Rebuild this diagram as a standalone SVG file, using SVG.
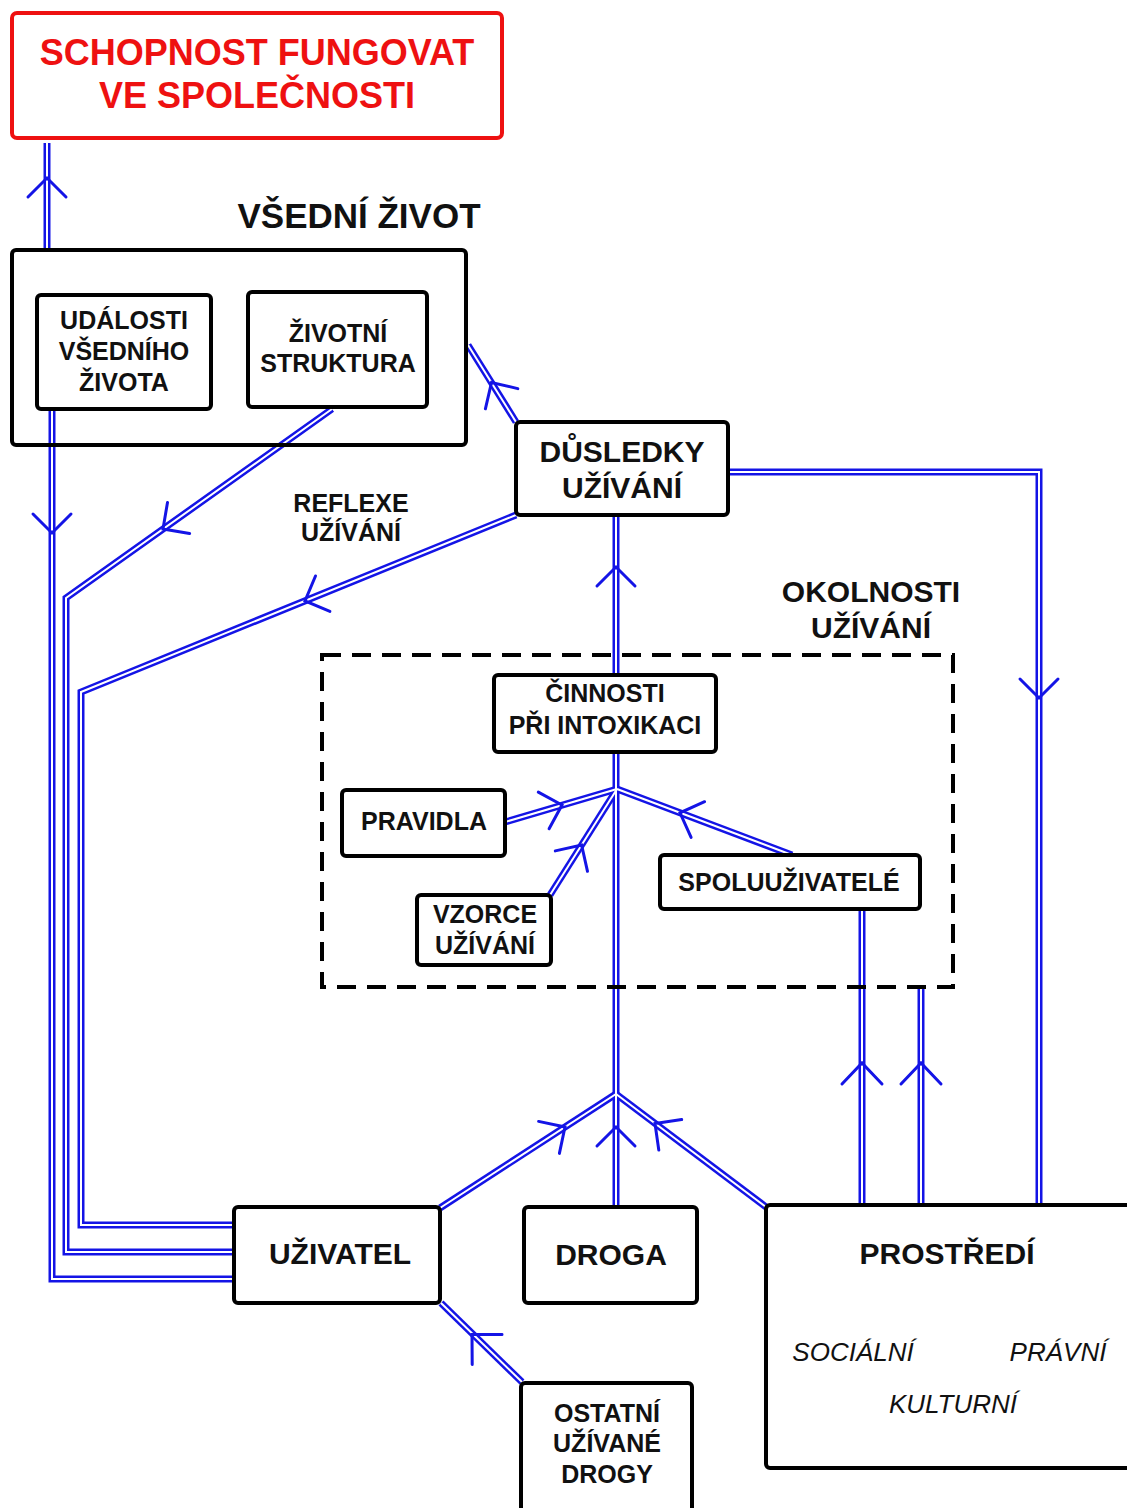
<svg xmlns="http://www.w3.org/2000/svg" xmlns:xlink="http://www.w3.org/1999/xlink" width="1127" height="1508" viewBox="0 0 1127 1508">
<style>
.box{fill:#fff;stroke:#000;stroke-width:4}
.frame{fill:none;stroke:#000;stroke-width:4}
.red{fill:#fff;stroke:#ee1111;stroke-width:4}
.dash{fill:none;stroke:#000;stroke-width:4;stroke-dasharray:19 11}
.t{font-family:"Liberation Sans",Arial,sans-serif;font-weight:bold;text-anchor:middle;fill:#111}
.rt{font-family:"Liberation Sans",Arial,sans-serif;font-weight:bold;text-anchor:middle;fill:#ee1111;font-size:36px}
.it{font-family:"Liberation Sans",Arial,sans-serif;font-style:italic;text-anchor:middle;fill:#111;font-size:26px}
.s25{font-size:25px}.s30{font-size:30px}.s35{font-size:35px}
.co{fill:none;stroke:#1414e6;stroke-width:7;stroke-linejoin:miter}
.ci{fill:none;stroke:#fff;stroke-width:2;stroke-linejoin:miter}
.ah{fill:none;stroke:#1414e6;stroke-width:3;stroke-linecap:round;stroke-linejoin:miter}
</style>
<defs>
<path id="p1" d="M47,143 V248"/>
<path id="p2" d="M516,422 L468,345"/>
<path id="p3" d="M52,409 V1279 H232"/>
<path id="p4" d="M332,409 L66,598 V1252 H232"/>
<path id="p5" d="M516,515 L81,692 V1225 H232"/>
<path id="p6" d="M728,472 H1039 V1205"/>
<path id="p7" d="M616,515 V675"/>
<path id="p8" d="M616,752 V1207"/>
<path id="p9" d="M505,822 L617,789"/>
<path id="p10" d="M550,895 L617,789"/>
<path id="p11" d="M792,855 L617,789"/>
<path id="p12" d="M440,1208 L616,1094"/>
<path id="p13" d="M766,1207 L616,1094"/>
<path id="p14" d="M862,909 V1205"/>
<path id="p15" d="M921,987 V1205"/>
<path id="p16" d="M441,1303 L522,1382"/>
</defs>
<rect width="1127" height="1508" fill="#fff"/>

<g id="connectors">
<g class="co">
<use xlink:href="#p1"/><use xlink:href="#p2"/><use xlink:href="#p3"/><use xlink:href="#p4"/>
<use xlink:href="#p5"/><use xlink:href="#p6"/><use xlink:href="#p7"/><use xlink:href="#p8"/>
<use xlink:href="#p9"/><use xlink:href="#p10"/><use xlink:href="#p11"/><use xlink:href="#p12"/>
<use xlink:href="#p13"/><use xlink:href="#p14"/><use xlink:href="#p15"/><use xlink:href="#p16"/>
</g>
<g class="ci">
<use xlink:href="#p1"/><use xlink:href="#p2"/><use xlink:href="#p3"/><use xlink:href="#p4"/>
<use xlink:href="#p5"/><use xlink:href="#p6"/><use xlink:href="#p7"/><use xlink:href="#p8"/>
<use xlink:href="#p9"/><use xlink:href="#p10"/><use xlink:href="#p11"/><use xlink:href="#p12"/>
<use xlink:href="#p13"/><use xlink:href="#p14"/><use xlink:href="#p15"/><use xlink:href="#p16"/>
</g>
<g class="ah">
<path d="M28,197 L47,178 L66,197"/>
<path d="M485.4,408.8 L491.5,382.5 L517.8,388.6"/>
<path d="M33,514 L52,533 L71,514"/>
<path d="M189.6,533.5 L163,529 L167.5,502.4"/>
<path d="M329.9,611.4 L305,601 L315.5,576"/>
<path d="M1020,679 L1039,698 L1058,679"/>
<path d="M597,586 L616,567 L635,586"/>
<path d="M538.3,792.1 L562,805 L549.1,828.7"/>
<path d="M555.3,850.9 L581.6,845 L587.5,871.3"/>
<path d="M691.1,837.4 L680,812.8 L704.6,801.7"/>
<path d="M538.6,1121.4 L565,1127 L559.4,1153.4"/>
<path d="M597,1146 L616,1127 L635,1146"/>
<path d="M658.8,1150.1 L655,1123.4 L681.7,1119.6"/>
<path d="M842,1084 L862,1063 L882,1084"/>
<path d="M901,1084 L921,1063 L941,1084"/>
<path d="M472.2,1364.6 L472,1334.6 L502,1334.4"/>
</g>
</g>

<g id="schopnost">
<rect class="red" x="12" y="13" width="490" height="125" rx="5"/>
<text class="rt" x="257" y="65">SCHOPNOST FUNGOVAT</text>
<text class="rt" x="257" y="108">VE SPOLEČNOSTI</text>
</g>

<g id="vsedni-zivot">
<text class="t s35" x="359" y="228">VŠEDNÍ ŽIVOT</text>
<rect class="frame" x="12" y="250" width="454" height="195" rx="4"/>
</g>

<g id="udalosti">
<rect class="box" x="37" y="295" width="174" height="114" rx="4"/>
<text class="t s25" x="124" y="329">UDÁLOSTI</text>
<text class="t s25" x="124" y="360">VŠEDNÍHO</text>
<text class="t s25" x="124" y="391">ŽIVOTA</text>
</g>

<g id="zivotni-struktura">
<rect class="box" x="248" y="292" width="179" height="115" rx="4"/>
<text class="t s25" x="338" y="342">ŽIVOTNÍ</text>
<text class="t s25" x="338" y="372">STRUKTURA</text>
</g>

<g id="dusledky">
<rect class="box" x="516" y="422" width="212" height="93" rx="4"/>
<text class="t s30" x="622" y="462">DŮSLEDKY</text>
<text class="t s30" x="622" y="498">UŽÍVÁNÍ</text>
</g>

<g id="reflexe">
<text class="t s25" x="351" y="512">REFLEXE</text>
<text class="t s25" x="351" y="541">UŽÍVÁNÍ</text>
</g>

<g id="okolnosti">
<text class="t s30" x="871" y="602">OKOLNOSTI</text>
<text class="t s30" x="871" y="638">UŽÍVÁNÍ</text>
<rect class="dash" x="322" y="655" width="631" height="332"/>
</g>

<g id="cinnosti">
<rect class="box" x="494" y="675" width="222" height="77" rx="4"/>
<text class="t s25" x="605" y="702">ČINNOSTI</text>
<text class="t s25" x="605" y="734">PŘI INTOXIKACI</text>
</g>

<g id="pravidla">
<rect class="box" x="342" y="790" width="163" height="66" rx="4"/>
<text class="t s25" x="424" y="830">PRAVIDLA</text>
</g>

<g id="vzorce">
<rect class="box" x="417" y="895" width="134" height="70" rx="4"/>
<text class="t s25" x="485" y="923">VZORCE</text>
<text class="t s25" x="485" y="954">UŽÍVÁNÍ</text>
</g>

<g id="spoluuzivatele">
<rect class="box" x="660" y="855" width="260" height="54" rx="4"/>
<text class="t s25" x="789" y="891">SPOLUUŽIVATELÉ</text>
</g>

<g id="uzivatel">
<rect class="box" x="234" y="1207" width="206" height="96" rx="4"/>
<text class="t s30" x="340" y="1264">UŽIVATEL</text>
</g>

<g id="droga">
<rect class="box" x="524" y="1207" width="173" height="96" rx="4"/>
<text class="t s30" x="611" y="1265">DROGA</text>
</g>

<g id="prostredi">
<rect class="box" x="766" y="1205" width="380" height="263" rx="4"/>
<text class="t s30" x="947" y="1264">PROSTŘEDÍ</text>
<text class="it" x="853" y="1361">SOCIÁLNÍ</text>
<text class="it" x="1058" y="1361">PRÁVNÍ</text>
<text class="it" x="953" y="1413">KULTURNÍ</text>
</g>

<g id="ostatni-drogy">
<rect class="box" x="521" y="1383" width="171" height="140" rx="4"/>
<text class="t s25" x="607" y="1422">OSTATNÍ</text>
<text class="t s25" x="607" y="1452">UŽÍVANÉ</text>
<text class="t s25" x="607" y="1483">DROGY</text>
</g>
</svg>
